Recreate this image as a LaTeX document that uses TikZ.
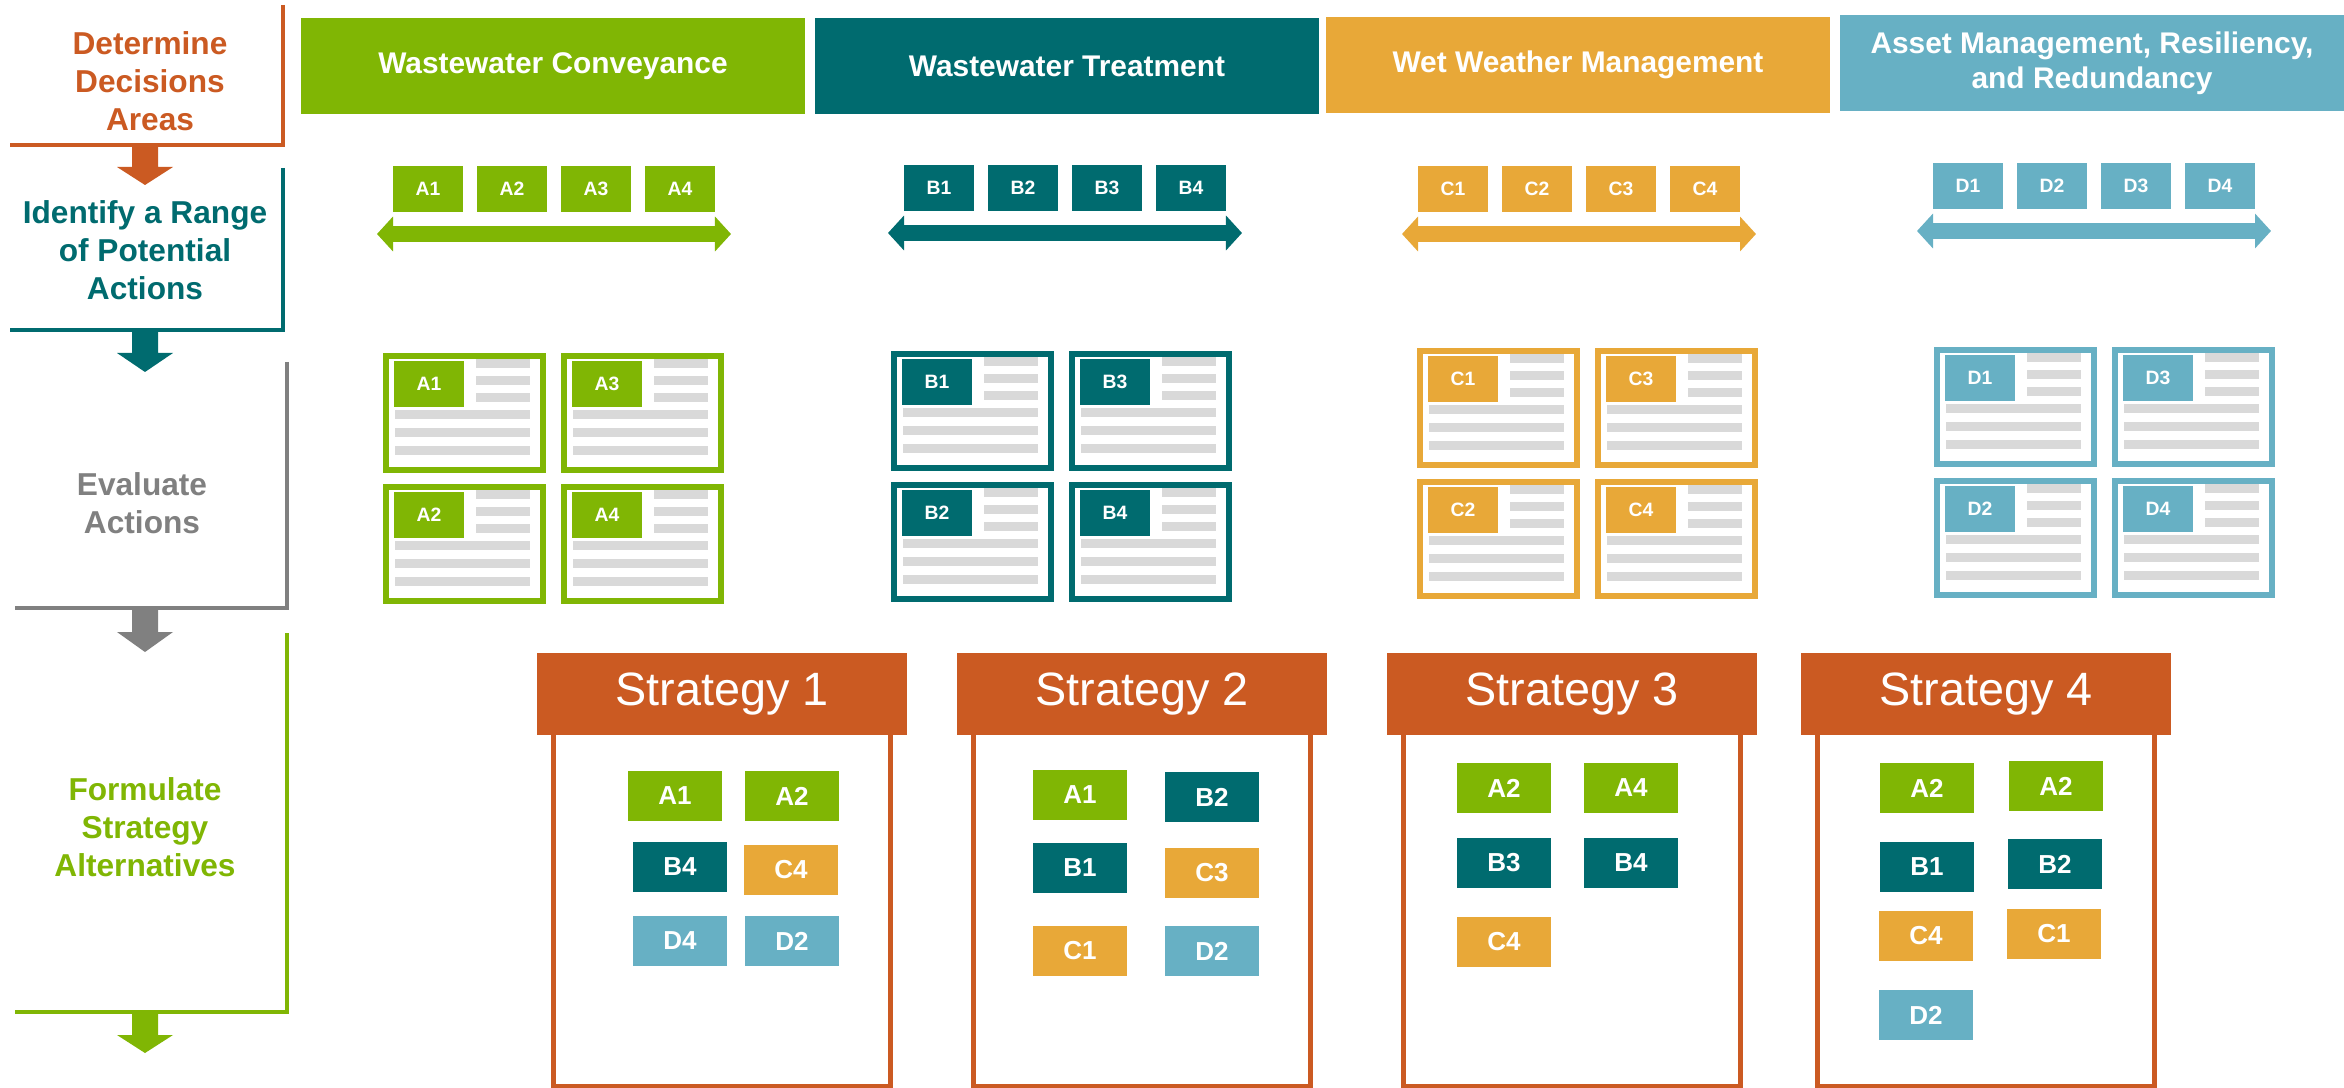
\documentclass[tikz,border=0pt]{standalone}
\usepackage{fontspec}
\setmainfont{Liberation Sans}
\usetikzlibrary{arrows.meta,calc}
\definecolor{colA}{HTML}{80B604}
\definecolor{colB}{HTML}{006B6F}
\definecolor{colC}{HTML}{E8A838}
\definecolor{colD}{HTML}{67B0C4}
\definecolor{colOr}{HTML}{CB5A22}
\definecolor{colGr}{HTML}{808080}
\definecolor{barc}{HTML}{D9D9D9}
\tikzset{
  head/.style={fill=#1,text=white,font=\fontsize{8.5}{10}\selectfont\bfseries,align=center,
    minimum width=5.04cm,minimum height=0.96cm,inner sep=0pt},
  stagetxt/.style={text=#1,font=\fontsize{9}{10.8}\selectfont\bfseries,align=center,inner sep=0pt},
  brk/.style={draw=#1,line width=0.04cm},
  achip/.style={fill=#1,text=white,font=\fontsize{5.5}{6}\selectfont\bfseries,
    minimum width=0.7cm,minimum height=0.46cm,inner sep=0pt},
  schip/.style={fill=#1,text=white,font=\fontsize{7.4}{8}\selectfont\bfseries,
    minimum width=0.94cm,minimum height=0.49cm,inner sep=0pt},
  dbl/.style={{Triangle[length=0.16cm,width=0.34cm]}-{Triangle[length=0.16cm,width=0.34cm]},
    line width=0.15cm,draw=#1},
  card/.style={draw=#1,fill=white,line width=0.06cm,minimum width=1.57cm,minimum height=1.14cm,
    inner sep=0pt},
  shead/.style={fill=colOr,text=white,font=\fontsize{13.3}{14}\selectfont,
    minimum width=3.7cm,minimum height=0.81cm,inner sep=0pt},
  sbody/.style={draw=colOr,line width=0.05cm},
}
\begin{document}
\begin{tikzpicture}[x=0.01cm,y=-0.01cm]
  \useasboundingbox[fill=white] (0,0) rectangle (2344,1088);

  % process steps on the left
  \node[stagetxt=colOr] (p1) at (150,81)  {Determine\\Decisions\\Areas};
  \node[stagetxt=colB]  (p2) at (145,250) {Identify a Range\\of Potential\\Actions};
  \node[stagetxt=colGr] (p3) at (142,503) {Evaluate\\Actions};
  \node[stagetxt=colA]  (p4) at (145,827) {Formulate\\Strategy\\Alternatives};
  \draw[brk=colOr] (283,5) |- (10,145);
  \draw[brk=colB]  (283,168) |- (10,330);
  \draw[brk=colGr] (287,362) |- (15,608);
  \draw[brk=colA]  (287,633) |- (15,1012);
  \foreach \c/\t/\m/\e in {colOr/145/167/185, colB/330/353/372, colGr/608/632/652, colA/1012/1035/1053}
    \fill[\c] (132,\t) -- (158,\t) -- (158,\m) -- (173,\m) -- (145,\e) -- (117,\m) -- (132,\m) -- cycle;

  % decision areas
  \node[head=colA] (hA) at (553,66) {Wastewater Conveyance};
  \node[head=colB] (hB) at (1067,66) {Wastewater Treatment};
  \node[head=colC] (hC) at (1578,65) {Wet Weather Management};
  \node[head=colD] (hD) at (2092,63) {Asset Management, Resiliency,\\and Redundancy};

  % range of actions
  \foreach \grp/\cx/\cy in {A/554/189, B/1065/188, C/1579/189, D/2094/186} {
    \foreach \num/\dx in {1/-126,2/-42,3/42,4/126}
      \node[achip=col\grp] (k\grp\num) at (\cx+\dx,\cy) {\grp\num};
    \coordinate (lft\grp) at (\cx-177,\cy+45);
    \coordinate (rgt\grp) at (\cx+177,\cy+45);
    \draw[dbl=col\grp] (lft\grp) -- (rgt\grp);
  }

  % evaluation cards
  \foreach \grp/\lx/\ty in {A/383/353, B/891/351, C/1417/348, D/1934/347} {
    \foreach \num/\ox/\oy in {1/0/0, 3/178/0, 2/0/131, 4/178/131} {
      \node[card=col\grp] (c\grp\num) at (\lx+\ox+81.5,\ty+\oy+60) {};
      \node[achip=col\grp] (t\grp\num) at ($(c\grp\num.north west)+(46,31)$) {\grp\num};
      \foreach \r in {6,23,40}
        \fill[barc] ($(c\grp\num.north west)+(93,\r)$) rectangle ++(54,9);
      \foreach \r in {57,75,93}
        \fill[barc] ($(c\grp\num.north west)+(12,\r)$) rectangle ++(135,9);
    }
  }

  % strategy alternatives
  \foreach \k/\x in {1/722, 2/1142, 3/1572, 4/1986} {
    \node[shead] (s\k) at (\x,694) {Strategy \k};
    \draw[sbody] ($(s\k.south west)+(17,0)$) -- ++(0,351)
      -- ($(s\k.south east)+(-17,351)$) -- ($(s\k.south east)+(-17,0)$);
  }
  \foreach \grp/\num/\x/\y [count=\i] in {A/1/675/796, A/2/792/796, B/4/680/867, C/4/791/870,
      D/4/680/941, D/2/792/941,
      A/1/1080/795, B/2/1212/797, B/1/1080/868, C/3/1212/873, C/1/1080/951, D/2/1212/951,
      A/2/1504/788, A/4/1631/788, B/3/1504/863, B/4/1631/863, C/4/1504/942,
      A/2/1927/788, A/2/2056/786, B/1/1927/867, B/2/2055/864, C/4/1926/936, C/1/2054/934,
      D/2/1926/1015}
    \node[schip=col\grp] (q\i) at (\x,\y) {\grp\num};
\end{tikzpicture}
\end{document}
